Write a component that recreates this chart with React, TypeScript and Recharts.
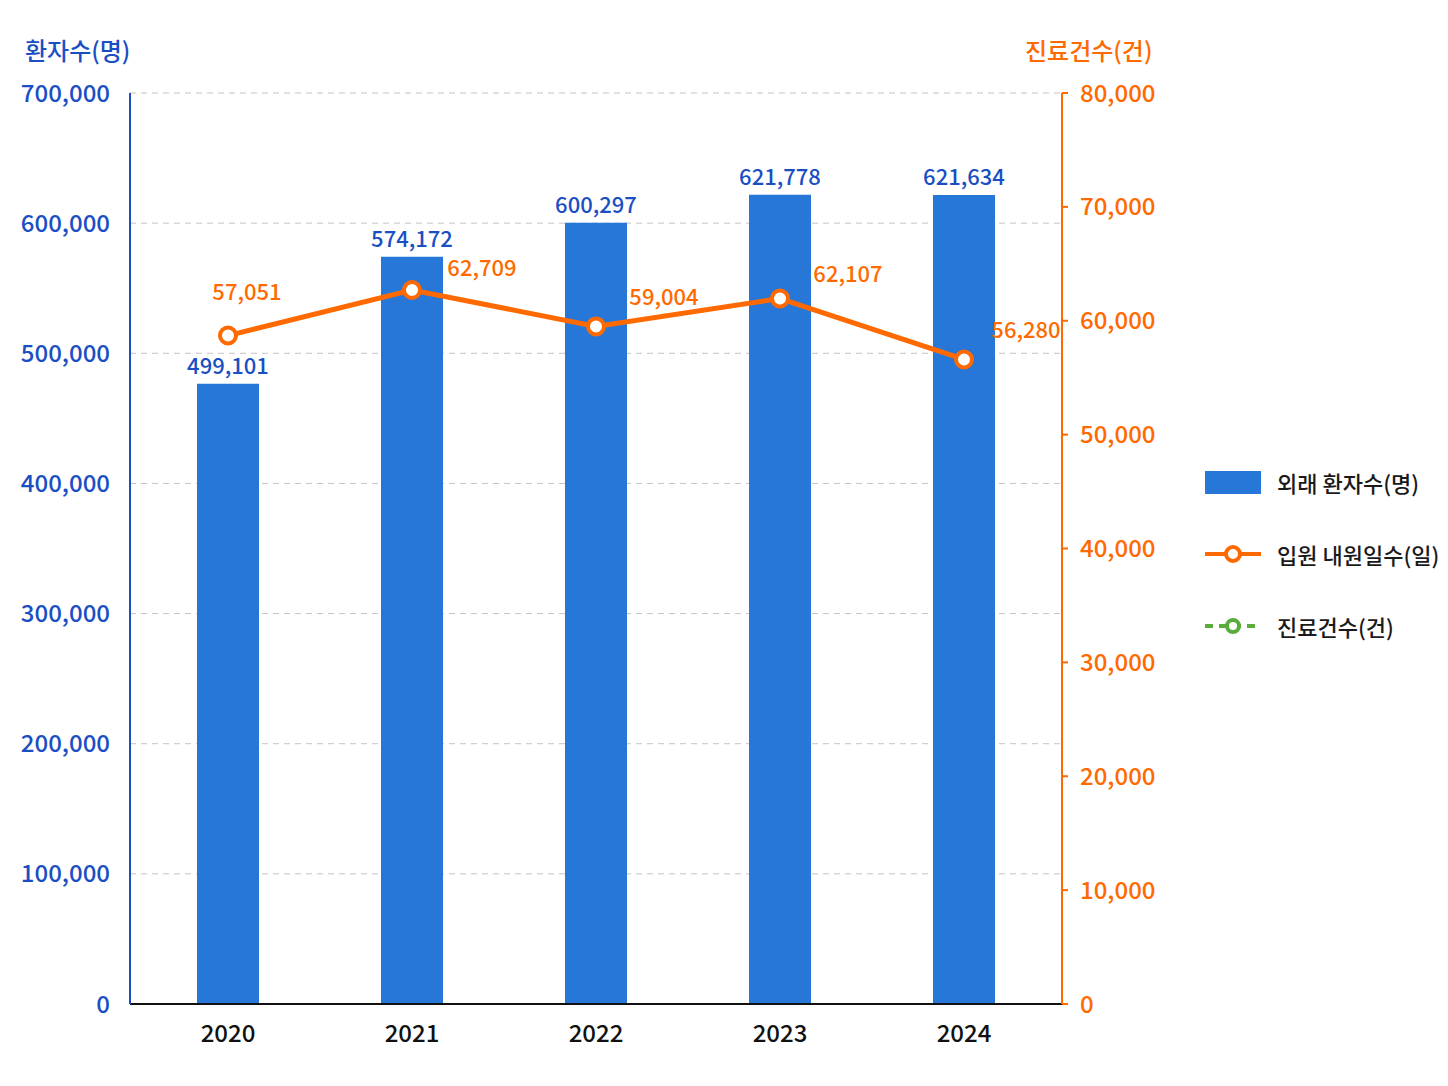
import { ComposedChart, Bar, Line, XAxis, YAxis, CartesianGrid, LabelList } from "recharts";

const years = ["2020", "2021", "2022", "2023", "2024"];
// bar heights as drawn, and the numbers printed above them
const outpatients = [476500, 574172, 600297, 621778, 621634];
const outpatientLabels = ["499,101", "574,172", "600,297", "621,778", "621,634"];
// line points as drawn, and the numbers printed next to them
const inpatientDays = [58700, 62700, 59500, 61950, 56600];
const inpatientLabels = ["57,051", "62,709", "59,004", "62,107", "56,280"];

const leftTicks = [0, 100000, 200000, 300000, 400000, 500000, 600000, 700000];
const rightTicks = [0, 10000, 20000, 30000, 40000, 50000, 60000, 70000, 80000];

const legendItems = [
  { name: "외래 환자수(명)", kind: "bar", color: "#2777d9" },
  { name: "입원 내원일수(일)", kind: "line", color: "#ff6a00" },
  { name: "진료건수(건)", kind: "dashed", color: "#5aac3c" },
];

const BLUE = "#1a4fc4";
const BAR = "#2777d9";
const ORANGE = "#ff6a00";
const FONT = "'Noto Sans CJK KR', 'Noto Sans', sans-serif";

const data = years.map((y, i) => ({
  year: y,
  outpatients: outpatients[i],
  outLabel: outpatientLabels[i],
  inpatientDays: inpatientDays[i],
  inLabel: inpatientLabels[i],
}));

// where each line label sits relative to its point
const lineLabelOffsets = [
  { dx: 19, dy: -46 },
  { dx: 70, dy: -24 },
  { dx: 68, dy: -31 },
  { dx: 68, dy: -27 },
  { dx: 62, dy: -31 },
];

const fmt = (v: number) => v.toLocaleString("en-US");

function LineLabel(props: any) {
  const { x, y, index } = props;
  const o = lineLabelOffsets[index];
  return (
    <text x={x + o.dx} y={y + o.dy} fill={ORANGE} fontSize={22} fontWeight={500} fontFamily={FONT} textAnchor="middle" dominantBaseline="central">
      {inpatientLabels[index]}
    </text>
  );
}

function BarLabel(props: any) {
  const { x, y, width, index } = props;
  return (
    <text x={x + width / 2} y={y - 20} fill={BLUE} fontSize={22} fontWeight={500} fontFamily={FONT} textAnchor="middle" dominantBaseline="central">
      {outpatientLabels[index]}
    </text>
  );
}

function ChartLegend() {
  return (
    <div style={{ position: "absolute", left: 1195, top: 438, fontFamily: FONT, fontSize: 22, fontWeight: 500, color: "#1a1a1a" }}>
      {legendItems.map((item) => (
        <div key={item.name} style={{ display: "flex", alignItems: "center", height: 72 }}>
          <svg width={60} height={30} style={{ marginRight: 14 }}>
            {item.kind === "bar" && <rect x={2} y={4} width={56} height={23} fill={item.color} />}
            {item.kind === "line" && (
              <g>
                <line x1={2} y1={15} x2={58} y2={15} stroke={item.color} strokeWidth={4} />
                <circle cx={30} cy={15} r={7} fill="#fff" stroke={item.color} strokeWidth={4} />
              </g>
            )}
            {item.kind === "dashed" && (
              <g>
                <line x1={2} y1={15} x2={58} y2={15} stroke={item.color} strokeWidth={4} strokeDasharray="8 6" />
                <circle cx={30} cy={15} r={6} fill="#fff" stroke={item.color} strokeWidth={4} />
              </g>
            )}
          </svg>
          <span>{item.name}</span>
        </div>
      ))}
    </div>
  );
}

export default function App() {
  const title = { position: "absolute" as const, top: 24, fontFamily: FONT, fontSize: 24, fontWeight: 500 };
  return (
    <div style={{ position: "relative", width: 1432, height: 1070, background: "#fff" }}>
      <div style={{ ...title, left: 17, color: BLUE }}>환자수(명)</div>
      <div style={{ ...title, left: 1017, color: ORANGE }}>진료건수(건)</div>
      <ComposedChart width={1432} height={1070} data={data} margin={{ top: 85, right: 278, bottom: 34, left: 0 }}>
        <CartesianGrid yAxisId="left" vertical={false} stroke="#c4c4c4" strokeDasharray="6 5" />
        <XAxis
          dataKey="year"
          height={40}
          padding={{ left: 6, right: 6 }}
          tickLine={false}
          axisLine={{ stroke: "#111", strokeWidth: 2 }}
          tickMargin={15}
          tick={{ fill: "#111", fontSize: 24, fontWeight: 500, fontFamily: FONT }}
        />
        <YAxis
          yAxisId="left"
          width={122}
          domain={[0, 700000]}
          ticks={leftTicks}
          tickFormatter={fmt}
          tickLine={false}
          tickMargin={14}
          axisLine={{ stroke: BLUE, strokeWidth: 2 }}
          tick={{ fill: BLUE, fontSize: 24, fontWeight: 500, fontFamily: FONT }}
        />
        <YAxis
          yAxisId="right"
          orientation="right"
          width={100}
          domain={[0, 80000]}
          ticks={rightTicks}
          tickFormatter={fmt}
          tickLine={{ stroke: ORANGE, strokeWidth: 2 }}
          tickSize={6}
          tickMargin={12}
          axisLine={{ stroke: ORANGE, strokeWidth: 2 }}
          tick={{ fill: ORANGE, fontSize: 24, fontWeight: 500, fontFamily: FONT }}
        />
        <Bar yAxisId="left" dataKey="outpatients" fill={BAR} barSize={62} isAnimationActive={false}>
          <LabelList dataKey="outLabel" content={BarLabel} />
        </Bar>
        <Line
          yAxisId="right"
          dataKey="inpatientDays"
          stroke={ORANGE}
          strokeWidth={5}
          dot={{ r: 8, fill: "#fff", stroke: ORANGE, strokeWidth: 4 }}
          isAnimationActive={false}
        >
          <LabelList dataKey="inLabel" content={LineLabel} />
        </Line>
      </ComposedChart>
      <ChartLegend />
    </div>
  );
}
